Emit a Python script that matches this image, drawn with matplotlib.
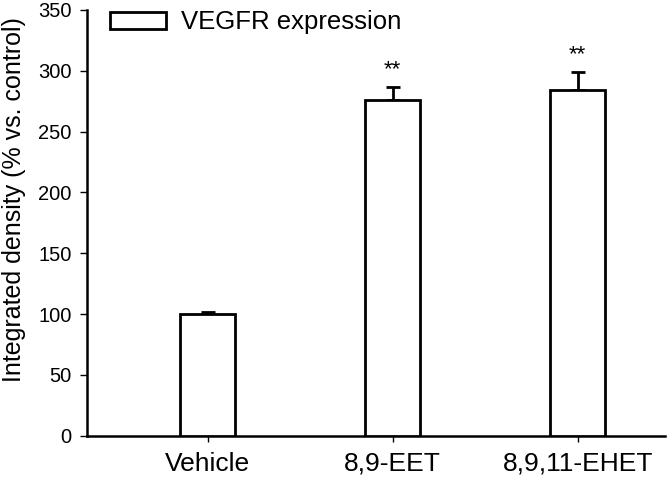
import matplotlib
matplotlib.use("Agg")
import matplotlib.pyplot as plt
import numpy as np

plt.rcParams['font.family'] = ['Liberation Sans', 'DejaVu Sans']

groups = ["Vehicle", "8,9-EET", "8,9,11-EHET"]
means = [100, 276, 284]
errs = [2, 10.5, 15]
stars = ["", "**", "**"]

fig = plt.figure(figsize=(6.67, 4.8), dpi=100)
ax = fig.add_axes([0.130, 0.0923, 0.867, 0.887])

x = np.arange(len(groups))
ax.bar(x, means, width=0.30, color='white', edgecolor='black', linewidth=2,
       label='VEGFR expression', zorder=3)
ax.errorbar(x, means, yerr=[np.zeros(len(errs)), errs], fmt='none', ecolor='black',
            elinewidth=2, capsize=5, capthick=2, zorder=2)

for xi, m, e, s in zip(x, means, errs, stars):
    if s:
        ax.annotate(s, (xi, m + e), xytext=(0, 5), textcoords='offset points',
                    ha='center', va='bottom', fontsize=16)

ax.set_xlim(-0.654, 2.472)
ax.set_ylim(0, 350)
ax.set_yticks(np.arange(0, 351, 50))
ax.set_xticks(x)
ax.set_xticklabels(groups, fontsize=19)
ax.tick_params(axis='y', labelsize=14.5, length=5, width=1, pad=6)
ax.tick_params(axis='x', length=4.5, width=1, pad=7)
ax.set_ylabel("Integrated density (% vs. control)", fontsize=18)
ax.yaxis.set_label_coords(-0.105, 0.555)

for side in ['top', 'right']:
    ax.spines[side].set_visible(False)
for side in ['left', 'bottom']:
    ax.spines[side].set_linewidth(1.8)

ax.legend(loc='upper left', bbox_to_anchor=(0.04, 0.999), frameon=False, fontsize=18.5,
          handlelength=2.2, handleheight=0.64, handletextpad=0.56, borderpad=0,
          borderaxespad=0)

fig.savefig("out.png", dpi=100)
